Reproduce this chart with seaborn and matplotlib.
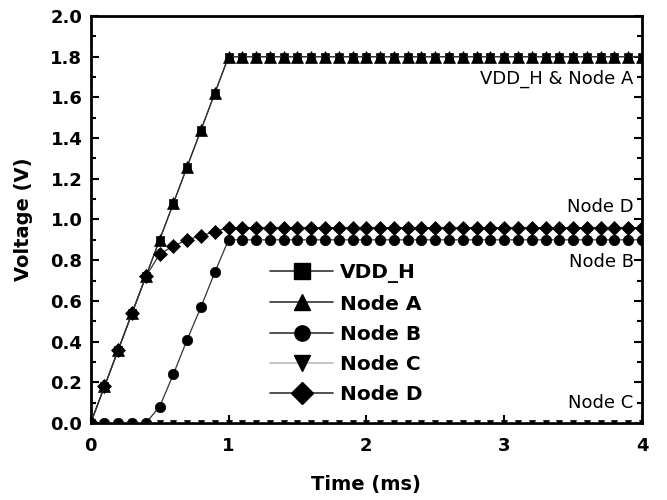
import numpy as np
import pandas as pd
import matplotlib
matplotlib.use("Agg")
import matplotlib.pyplot as plt
import seaborn as sns
from matplotlib.ticker import MultipleLocator, FormatStrFormatter

# time axis (ms), one sample every 0.1 ms
time_ms = [0.0, 0.1, 0.2, 0.3, 0.4, 0.5, 0.6, 0.7, 0.8, 0.9,
           1.0, 1.1, 1.2, 1.3, 1.4, 1.5, 1.6, 1.7, 1.8, 1.9,
           2.0, 2.1, 2.2, 2.3, 2.4, 2.5, 2.6, 2.7, 2.8, 2.9,
           3.0, 3.1, 3.2, 3.3, 3.4, 3.5, 3.6, 3.7, 3.8, 3.9, 4.0]

vdd_h = [0.00, 0.18, 0.36, 0.54, 0.72, 0.90, 1.08, 1.26, 1.44, 1.62,
         1.80, 1.80, 1.80, 1.80, 1.80, 1.80, 1.80, 1.80, 1.80, 1.80,
         1.80, 1.80, 1.80, 1.80, 1.80, 1.80, 1.80, 1.80, 1.80, 1.80,
         1.80, 1.80, 1.80, 1.80, 1.80, 1.80, 1.80, 1.80, 1.80, 1.80, 1.80]

node_a = [0.00, 0.18, 0.36, 0.54, 0.72, 0.90, 1.08, 1.26, 1.44, 1.62,
          1.80, 1.80, 1.80, 1.80, 1.80, 1.80, 1.80, 1.80, 1.80, 1.80,
          1.80, 1.80, 1.80, 1.80, 1.80, 1.80, 1.80, 1.80, 1.80, 1.80,
          1.80, 1.80, 1.80, 1.80, 1.80, 1.80, 1.80, 1.80, 1.80, 1.80, 1.80]

node_b = [0.00, 0.00, 0.00, 0.00, 0.00, 0.08, 0.24, 0.41, 0.57, 0.74,
          0.90, 0.90, 0.90, 0.90, 0.90, 0.90, 0.90, 0.90, 0.90, 0.90,
          0.90, 0.90, 0.90, 0.90, 0.90, 0.90, 0.90, 0.90, 0.90, 0.90,
          0.90, 0.90, 0.90, 0.90, 0.90, 0.90, 0.90, 0.90, 0.90, 0.90, 0.90]

node_c = [0.00, 0.00, 0.00, 0.00, 0.00, 0.00, 0.00, 0.00, 0.00, 0.00,
          0.00, 0.00, 0.00, 0.00, 0.00, 0.00, 0.00, 0.00, 0.00, 0.00,
          0.00, 0.00, 0.00, 0.00, 0.00, 0.00, 0.00, 0.00, 0.00, 0.00,
          0.00, 0.00, 0.00, 0.00, 0.00, 0.00, 0.00, 0.00, 0.00, 0.00, 0.00]

node_d = [0.00, 0.18, 0.36, 0.54, 0.72, 0.83, 0.87, 0.90, 0.92, 0.94,
          0.96, 0.96, 0.96, 0.96, 0.96, 0.96, 0.96, 0.96, 0.96, 0.96,
          0.96, 0.96, 0.96, 0.96, 0.96, 0.96, 0.96, 0.96, 0.96, 0.96,
          0.96, 0.96, 0.96, 0.96, 0.96, 0.96, 0.96, 0.96, 0.96, 0.96, 0.96]

series_names = ["VDD_H", "Node A", "Node B", "Node C", "Node D"]
series_values = [vdd_h, node_a, node_b, node_c, node_d]
series_markers = ["s", "^", "o", "v", "D"]
marker_sizes = [6, 8.5, 7.5, 4.5, 7.5]
series_lines = ["#333333", "#333333", "#333333", "#bbbbbb", "#333333"]

annotations = [("VDD_H & Node A", 1.69), ("Node D", 1.06),
               ("Node B", 0.79), ("Node C", 0.10)]

sns.set_style("ticks")
plt.rcParams["font.family"] = ["DejaVu Sans"]
plt.rcParams.update({"text.color": "black", "axes.labelcolor": "black",
                     "xtick.color": "black", "ytick.color": "black",
                     "axes.edgecolor": "black"})

fig, ax = plt.subplots(figsize=(6.67, 5.0), dpi=100)
fig.subplots_adjust(left=0.136, right=0.9625, bottom=0.154, top=0.968)

# draw order: Node C first (behind), Node A last (on top of VDD_H)
draw_order = [3, 2, 4, 0, 1]
for i in draw_order:
    df = pd.DataFrame({"t": time_ms, "v": series_values[i]})
    sns.lineplot(data=df, x="t", y="v", ax=ax, color=series_lines[i],
                 linewidth=0.9, marker=series_markers[i],
                 markersize=marker_sizes[i],
                 markerfacecolor="black", markeredgecolor="black",
                 markeredgewidth=0.5, label="_nolegend_", zorder=3 + i)

# legend with bigger markers and long handles
handles = []
for i in range(5):
    h, = ax.plot([], [], color=series_lines[i], linewidth=1.2,
                 marker=series_markers[i], markersize=11,
                 markerfacecolor="black", markeredgecolor="black")
    handles.append(h)
ax.legend(handles, series_names, loc="upper left",
          bbox_to_anchor=(0.325, 0.392), frameon=False,
          borderpad=0, borderaxespad=0,
          handlelength=3.15, handletextpad=0.35, labelspacing=0.55,
          prop={"weight": "bold", "size": 14.5})

for label, yv in annotations:
    ax.text(0.985, yv, label, transform=ax.get_yaxis_transform(),
            ha="right", va="center", fontsize=13)

ax.set_xlim(0, 4)
ax.set_ylim(0, 2.0)
ax.xaxis.set_major_locator(MultipleLocator(1))
ax.yaxis.set_major_locator(MultipleLocator(0.2))
ax.yaxis.set_minor_locator(MultipleLocator(0.1))
ax.yaxis.set_major_formatter(FormatStrFormatter("%.1f"))
ax.tick_params(axis="both", which="both", direction="in", top=False,
               right=True, width=1.5)
ax.tick_params(axis="both", which="major", length=6, labelsize=13, pad=6)
ax.tick_params(axis="x", which="major", pad=10)
ax.tick_params(axis="y", which="minor", length=3.5)
for lab in ax.get_xticklabels() + ax.get_yticklabels():
    lab.set_fontweight("bold")
for sp in ax.spines.values():
    sp.set_linewidth(2)
    sp.set_visible(True)

ax.set_xlabel("Time (ms)", fontsize=14, fontweight="bold")
ax.set_ylabel("Voltage (V)", fontsize=14, fontweight="bold")
ax.xaxis.set_label_coords(0.5, -0.128)
ax.yaxis.set_label_coords(-0.105, 0.5)

fig.savefig("out.png", dpi=100)
